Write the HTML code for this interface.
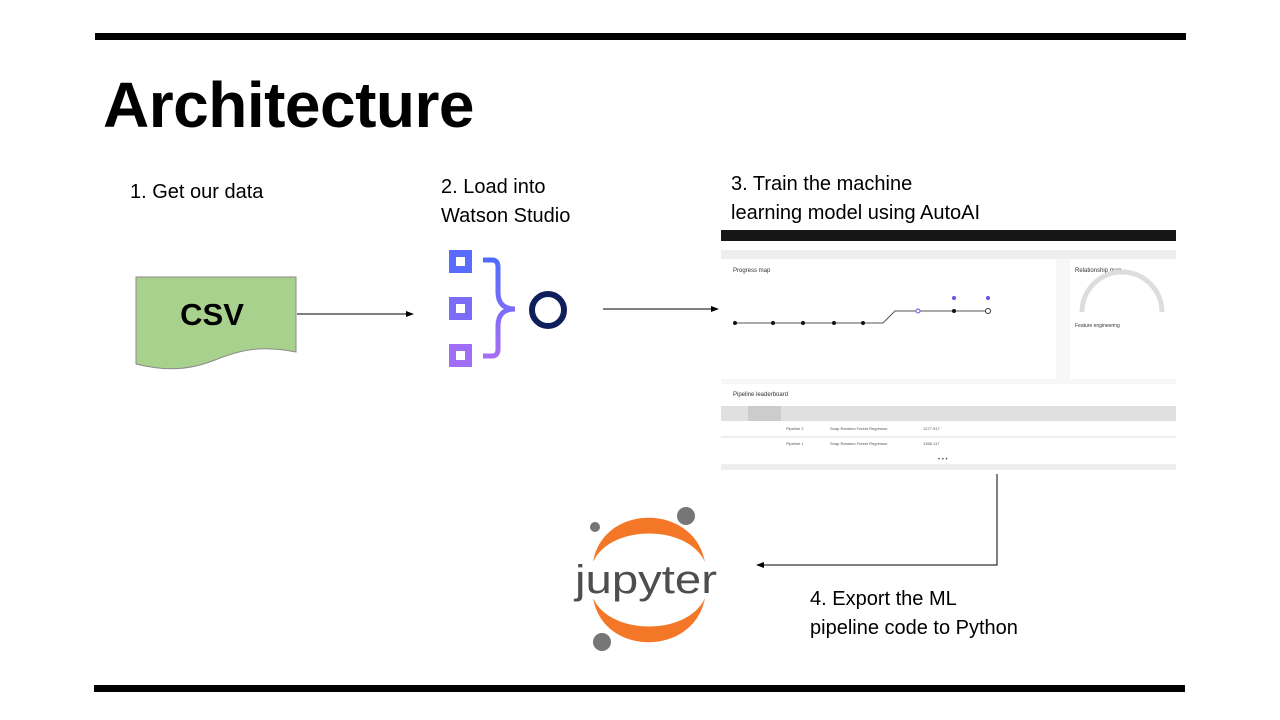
<!DOCTYPE html>
<html><head><meta charset="utf-8"><style>
body{margin:0;width:1280px;height:720px;background:#fff;position:relative;overflow:hidden;font-family:"Liberation Sans",sans-serif}
.bar{position:absolute;background:#000;height:7px}
.t{position:absolute;font-size:20px;color:#000;line-height:29px}
</style></head><body>
<div class="bar" style="left:95px;top:33px;width:1091px"></div>
<div class="bar" style="left:94px;top:685px;width:1091px"></div>
<div style="position:absolute;left:103px;top:68px;font-size:64px;font-weight:bold;letter-spacing:-0.5px">Architecture</div>
<div class="t" style="left:130px;top:178px">1. Get our data</div>
<div class="t" style="left:441px;top:173px">2. Load into<br>Watson Studio</div>
<div class="t" style="left:731px;top:170px">3. Train the machine<br>learning model using AutoAI</div>
<div class="t" style="left:810px;top:585px">4. Export the ML<br>pipeline code to Python</div>

<svg width="1280" height="720" style="position:absolute;left:0;top:0">
<defs>
<marker id="a" markerWidth="8" markerHeight="8" refX="7" refY="4" orient="auto"><path d="M0,1 L8,4 L0,7z" fill="#000"/></marker>
<linearGradient id="g" x1="0" y1="0" x2="0" y2="1"><stop offset="0" stop-color="#4f6bff"/><stop offset="1" stop-color="#a66ef5"/></linearGradient>
</defs>
<path d="M136,277 H296 V352 C260,345 240,350 215,360 C185,372 160,370 136,364 Z" fill="#a9d18e" stroke="#8a8a8a" stroke-width="1"/>
<text x="212" y="325" font-size="31" font-weight="bold" text-anchor="middle" font-family="Liberation Sans">CSV</text>
<line x1="297" y1="314" x2="413" y2="314" stroke="#000" stroke-width="1" marker-end="url(#a)"/>
<rect x="449" y="250" width="23" height="23" fill="#5a6cff"/><rect x="456" y="257" width="9" height="9" fill="#fff"/>
<rect x="449" y="297" width="23" height="23" fill="#7b6cf8"/><rect x="456" y="304" width="9" height="9" fill="#fff"/>
<rect x="449" y="344" width="23" height="23" fill="#a06ef5"/><rect x="456" y="351" width="9" height="9" fill="#fff"/>
<path d="M483,260 H492 Q498,260 498,267 V292 Q498,309 515,309 M483,356 H492 Q498,356 498,349 V326 Q498,309 515,309" fill="none" stroke="url(#g)" stroke-width="5"/>
<circle cx="548" cy="310" r="16" fill="none" stroke="#0f1f5c" stroke-width="6"/>
<line x1="603" y1="309" x2="718" y2="309" stroke="#000" stroke-width="1" marker-end="url(#a)"/>
<g font-family="Liberation Sans" font-size="4" fill="#555">
<rect x="721" y="230" width="455" height="240" fill="#f7f7f7"/>
<rect x="721" y="230" width="455" height="11" fill="#161616"/>
<rect x="721" y="241" width="455" height="9" fill="#fff"/>
<rect x="721" y="250" width="455" height="9" fill="#eee"/>
<rect x="721" y="259" width="335" height="120" fill="#fff"/>
<rect x="1070" y="259" width="106" height="120" fill="#fff"/>
<text x="733" y="272" font-size="6" fill="#333">Progress map</text>
<text x="1075" y="272" font-size="6" fill="#333">Relationship map</text>
<polyline points="735,323 883,323 895,311 988,311" fill="none" stroke="#555" stroke-width="1"/>
<g fill="#111"><circle cx="735" cy="323" r="2"/><circle cx="773" cy="323" r="2"/><circle cx="803" cy="323" r="2"/><circle cx="834" cy="323" r="2"/><circle cx="863" cy="323" r="2"/><circle cx="954" cy="311" r="2"/></g>
<circle cx="918" cy="311" r="2" fill="#fff" stroke="#6b4ee6"/><circle cx="988" cy="311" r="2.5" fill="#fff" stroke="#333"/>
<circle cx="954" cy="298" r="2" fill="#6b4ee6"/><circle cx="988" cy="298" r="2" fill="#6b4ee6"/>
<path d="M1082,312 A32,32 0 0 1 1162,312" fill="none" stroke="#ddd" stroke-width="5"/>
<text x="1075" y="327" font-size="5" fill="#333">Feature engineering</text>
<rect x="721" y="384" width="455" height="86" fill="#fff"/>
<text x="733" y="396" font-size="6" fill="#333">Pipeline leaderboard</text>
<rect x="721" y="406" width="455" height="15" fill="#e0e0e0"/>
<rect x="748" y="406" width="33" height="15" fill="#ccc"/>
<line x1="721" y1="437" x2="1176" y2="437" stroke="#ddd"/>
<text x="786" y="430">Pipeline 2</text><text x="830" y="430">Snap Random Forest Regressor</text><text x="923" y="430">1277.917</text>
<text x="786" y="445">Pipeline 1</text><text x="830" y="445">Snap Random Forest Regressor</text><text x="923" y="445">1358.117</text>
<text x="938" y="461" font-size="6">• • •</text>
<rect x="721" y="464" width="455" height="6" fill="#eee"/>
</g>
<polyline points="997,474 997,565 757,565" fill="none" stroke="#000" stroke-width="1" marker-end="url(#a)"/>
<path d="M593,562 C603,503 694,503 705,562 C688,524 610,524 593,562Z" fill="#f37726"/>
<path d="M593,598 C603,657 694,657 705,598 C688,636 610,636 593,598Z" fill="#f37726"/>
<circle cx="595" cy="527" r="5" fill="#767677"/><circle cx="686" cy="516" r="9" fill="#767677"/><circle cx="602" cy="642" r="9" fill="#767677"/>
<text x="646" y="593" font-size="40" text-anchor="middle" fill="#4e4e4e" font-family="Liberation Sans" textLength="142" lengthAdjust="spacingAndGlyphs">jupyter</text>
</svg>
</body></html>
